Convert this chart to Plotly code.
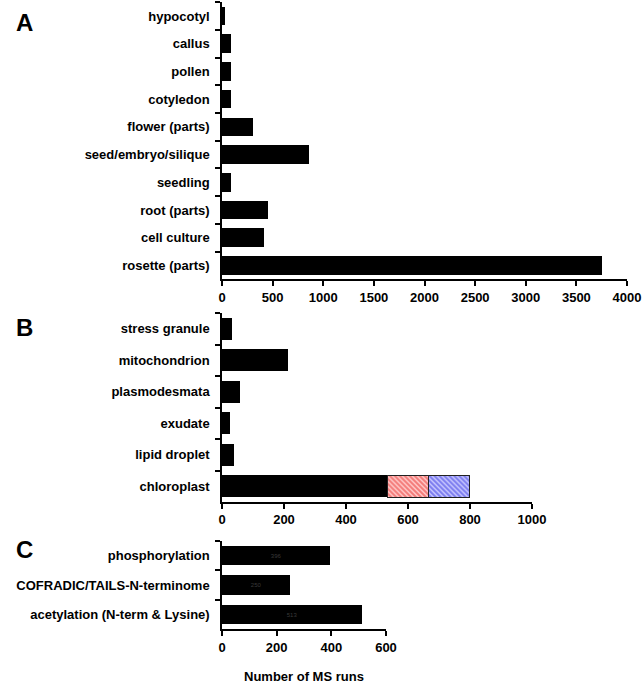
import plotly.graph_objects as go

# Panel A: tissues
tissues = ["hypocotyl", "callus", "pollen", "cotyledon", "flower (parts)",
           "seed/embryo/silique", "seedling", "root (parts)", "cell culture",
           "rosette (parts)"]
tissue_runs = [25, 85, 85, 85, 310, 860, 85, 450, 410, 3755]

# Panel B: organelles / compartments
organelles = ["stress granule", "mitochondrion", "plasmodesmata", "exudate",
              "lipid droplet", "chloroplast"]
organelle_runs = [33, 213, 58, 27, 38, 535]
chloro_red = [None, None, None, None, None, 130]
chloro_blue = [None, None, None, None, None, 132]

# Panel C: PTMs
ptms = ["phosphorylation", "COFRADIC/TAILS-N-terminome", "acetylation (N-term & Lysine)"]
ptm_runs = [396, 250, 513]

W, H = 644, 685
FONT = "Arial, Liberation Sans, sans-serif"


def px_x(p):
    return p / W


def px_y(p):
    return 1 - p / H


fig = go.Figure()

fig.add_trace(go.Bar(y=tissues, x=tissue_runs, orientation="h", width=0.67,
                     marker=dict(color="black", line=dict(width=0)),
                     xaxis="x", yaxis="y", showlegend=False))

fig.add_trace(go.Bar(y=organelles, x=organelle_runs, orientation="h", width=0.7,
                     marker=dict(color="black", line=dict(width=0)),
                     xaxis="x2", yaxis="y2", showlegend=False))
fig.add_trace(go.Bar(y=organelles, x=chloro_red, orientation="h", width=0.7,
                     marker=dict(color="white", line=dict(color="#222", width=1),
                                 pattern=dict(shape="\\", fgcolor="#e8231f", bgcolor="#ffd0d0",
                                              size=3.5, solidity=0.6)),
                     xaxis="x2", yaxis="y2", showlegend=False))
fig.add_trace(go.Bar(y=organelles, x=chloro_blue, orientation="h", width=0.7,
                     marker=dict(color="white", line=dict(color="#222", width=1),
                                 pattern=dict(shape="\\", fgcolor="#2323e0", bgcolor="#d0d0ff",
                                              size=3.5, solidity=0.6)),
                     xaxis="x2", yaxis="y2", showlegend=False))

fig.add_trace(go.Bar(y=ptms, x=ptm_runs, orientation="h", width=0.66,
                     marker=dict(color="black", line=dict(width=0)),
                     text=[str(v) for v in ptm_runs], textposition="inside",
                     insidetextanchor="middle",
                     textfont=dict(size=6, color="#3a3a3a", family=FONT),
                     xaxis="x3", yaxis="y3", showlegend=False))

xdom_start = px_x(222)
panels = [
    ("x", "y", tissues, [0, 4000], 500, px_x(627), (2.2, 279.3)),
    ("x2", "y2", organelles, [0, 1000], 200, px_x(532), (313, 502)),
    ("x3", "y3", ptms, [0, 600], 200, px_x(386), (540.8, 629.3)),
]

layout = dict(
    width=W, height=H, autosize=False,
    margin=dict(l=0, r=0, t=0, b=0),
    paper_bgcolor="white", plot_bgcolor="white",
    barmode="stack", bargap=0.3,
    font=dict(family=FONT, color="black", size=13),
)

for xa, ya, cats, rng, dt, xend, (ytop, ybot) in panels:
    xkey = "xaxis" if xa == "x" else "xaxis" + xa[1:]
    ykey = "yaxis" if ya == "y" else "yaxis" + ya[1:]
    layout[xkey] = dict(
        domain=[xdom_start, xend], anchor=ya, range=rng, dtick=dt,
        automargin=False,
        showline=True, linecolor="black", linewidth=1.5,
        ticks="outside", ticklen=5, tickwidth=1.5, tickcolor="black",
        showgrid=False, zeroline=False,
        tickfont=dict(size=13, weight="bold", family=FONT),
    )
    layout[ykey] = dict(
        domain=[px_y(ybot), px_y(ytop)], anchor=xa,
        type="category", categoryorder="array", categoryarray=cats,
        autorange="reversed", automargin=False,
        showline=True, linecolor="black", linewidth=1.5,
        ticks="outside", ticklen=5, tickwidth=1.5, tickcolor="black",
        tickson="boundaries", ticklabelstandoff=8,
        showgrid=False, zeroline=False,
        tickfont=dict(size=13, weight="bold", family=FONT),
    )

fig.update_layout(**layout)

for letter, ypx in [("A", 22), ("B", 327), ("C", 549)]:
    fig.add_annotation(text=letter, xref="paper", yref="paper",
                       x=px_x(25), y=px_y(ypx), showarrow=False,
                       xanchor="center", yanchor="middle",
                       font=dict(size=24, weight="bold", family=FONT))

fig.add_annotation(text="Number of MS runs", xref="paper", yref="paper",
                   x=px_x(304), y=px_y(676), showarrow=False,
                   xanchor="center", yanchor="middle",
                   font=dict(size=13, weight="bold", family=FONT))

# no body margin / scrollbars, so the figure fills the 644x685 window exactly
post = ("document.body.style.margin='0';"
        "document.body.style.overflow='hidden';")
fig.write_html("out.html", post_script=post,
               config={"displayModeBar": False})
